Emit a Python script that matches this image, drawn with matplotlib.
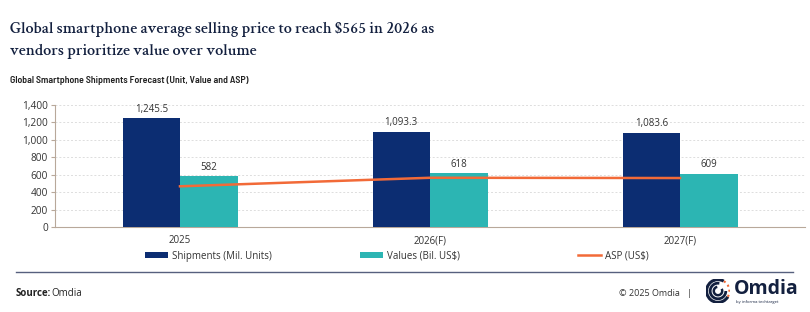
import matplotlib
matplotlib.use("Agg")
import matplotlib.pyplot as plt
import numpy as np
from matplotlib.patches import Arc

years = ["2025", "2026(F)", "2027(F)"]
shipments = [1245.5, 1093.3, 1083.6]
values = [582, 618, 609]
asp = [467, 565, 562]
ship_labels = ["1,245.5", "1,093.3", "1,083.6"]
value_labels = ["582", "618", "609"]
yticks = [0, 200, 400, 600, 800, 1000, 1200, 1400]

NAVY = "#0c2d72"
TEAL = "#2cb5b3"
ORANGE = "#f26a38"
INK = "#13203f"
SANS = ["Open Sans", "DejaVu Sans"]

fig = plt.figure(figsize=(8.1, 3.12), dpi=100)
fig.patch.set_facecolor("white")


def fy(py):
    return 1 - py / 312


title_font = dict(family=["Crimson Text", "Liberation Serif"], fontsize=11.6, color=INK,
                  weight="semibold", va="baseline")
fig.text(10 / 810, fy(33), "Global smartphone average selling price to reach $565 in 2026 as", **title_font)
fig.text(10 / 810, fy(55), "vendors prioritize value over volume", **title_font)
fig.text(10 / 810, fy(83), "Global Smartphone Shipments Forecast (Unit, Value and ASP)",
         family=["Barlow Semi Condensed", "Open Sans"], fontsize=7.1, color="#222222",
         va="baseline", weight="semibold")

ax = fig.add_axes([55 / 810, fy(227), 750 / 810, 122 / 312])
x = np.arange(len(years))
w = 0.23
b1 = ax.bar(x - w / 2, shipments, w, color=NAVY, label="Shipments (Mil. Units)", zorder=3)
b2 = ax.bar(x + w / 2, values, w, color=TEAL, label="Values (Bil. US$)", zorder=3)
ln, = ax.plot(x, asp, color=ORANGE, lw=1.8, label="ASP (US$)", zorder=4)

for i in range(len(years)):
    ax.text(x[i] - w / 2, shipments[i] + 40, ship_labels[i], ha="center", va="bottom",
            fontsize=7, family=SANS, color="#333333")
    ax.text(x[i] + w / 2, values[i] + 40, value_labels[i], ha="center", va="bottom",
            fontsize=7, family=SANS, color="#333333")

ax.set_xlim(-0.5, 2.5)
ax.set_ylim(0, 1400)
ax.set_yticks(yticks)
ax.set_yticklabels(["{:,}".format(t) for t in yticks], family=SANS, fontsize=7.3, color="#333333")
ax.set_xticks(x)
ax.set_xticklabels(years, family=SANS, fontsize=7, color="#333333")
ax.tick_params(axis="x", length=0, pad=6)
ax.tick_params(axis="y", length=3, color="#b8a89a", pad=2)
ax.yaxis.grid(True, ls=(0, (2, 2)), color="#dddddd", lw=0.7, zorder=0)
for s in ["top", "right"]:
    ax.spines[s].set_visible(False)
ax.spines["left"].set_color("#b8a89a")
ax.spines["bottom"].set_color("#b8a89a")

# legend entries placed one by one to match the wide spacing
for h, px in zip([b1, b2, ln], [146, 361, 579]):
    fig.legend([h], [h.get_label()], loc="center left", bbox_to_anchor=(px / 810 - 0.012, fy(256)),
               frameon=False, prop={"family": SANS, "size": 7}, handlelength=2.4,
               handleheight=0.55, handletextpad=0.4, labelcolor="#333333")

fig.add_artist(plt.Line2D([16 / 810, 793 / 810], [fy(272)] * 2, color="#56607e", lw=1.0))

fig.text(16 / 810, fy(293), "Source:", family=SANS, weight="bold", fontsize=7, va="center", color="#222222")
fig.text(51 / 810, fy(293), "Omdia", family=SANS, fontsize=7, va="center", color="#222222")
fig.text(692 / 810, fy(293), "© 2025 Omdia   |", family=SANS, fontsize=6.5,
         va="center", ha="right", color="#333333")

# Omdia logo
lax = fig.add_axes([706 / 810, fy(305), 24 / 810, 28 / 312])
lax.set_xlim(-1, 1)
lax.set_ylim(-1, 1)
lax.set_aspect("equal")
lax.axis("off")
for r, t1, t2, lw in [(0.95, 60, 330, 2.2), (0.65, 80, 360, 2.0), (0.35, 100, 390, 1.8)]:
    lax.add_patch(Arc((0, 0), 2 * r, 2 * r, theta1=t1, theta2=t2, color=INK, lw=lw))
lax.add_patch(Arc((0, 0), 1.9, 1.9, theta1=330, theta2=420, color=ORANGE, lw=1.5, ls=(0, (1, 1.5))))
fig.text(734 / 810, fy(289), "Omdia", family=SANS, weight="bold", fontsize=14,
         color=INK, va="center")
fig.text(736 / 810, fy(302), "by informa techtarget", family=SANS, fontsize=3,
         color=INK, va="center")

fig.savefig("out.png", dpi=100, facecolor="white")
